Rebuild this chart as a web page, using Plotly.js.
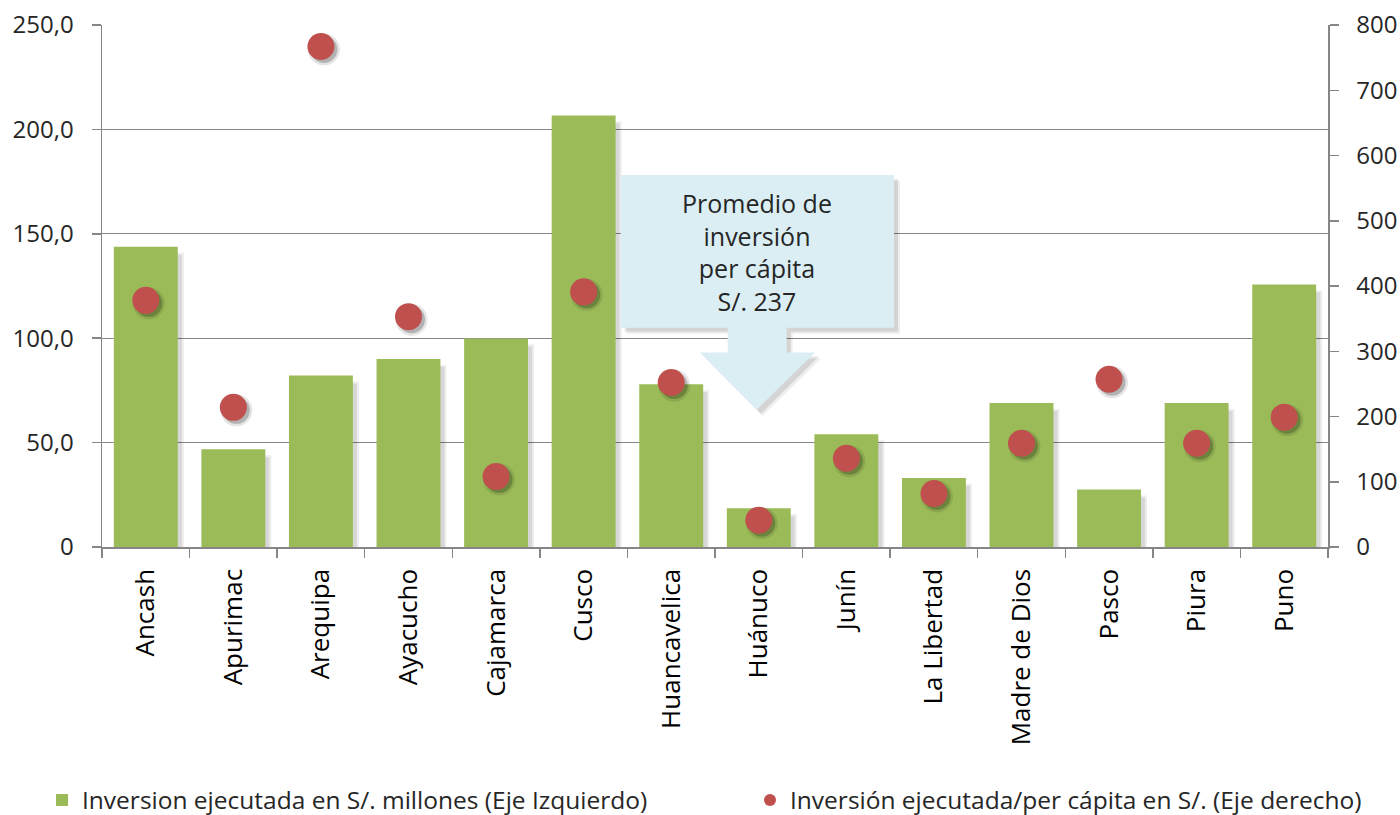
<!DOCTYPE html>
<html>
<head>
<meta charset="utf-8">
<script src="https://cdn.plot.ly/plotly-3.0.1.min.js"></script>
<style>html,body{margin:0;padding:0;background:#fff;}#chart{width:1400px;height:815px;}</style>
</head>
<body>
<div id="chart"></div>
<script>
var categories = ["Ancash","Apurimac","Arequipa","Ayacucho","Cajamarca","Cusco","Huancavelica","Huánuco","Junín","La Libertad","Madre de Dios","Pasco","Piura","Puno"];
var inversionMillones = [143.8, 46.8, 82.1, 90.0, 99.8, 206.7, 78.0, 18.5, 54.0, 33.1, 69.0, 27.5, 69.0, 125.7];
var inversionPerCapita = [378, 214, 767, 353, 108, 391, 252, 41, 136, 82, 159, 257, 159, 199];
var leftTickVals = [0, 50, 100, 150, 200, 250];
var leftTickText = ["0", "50,0", "100,0", "150,0", "200,0", "250,0"];
var rightTickVals = [0, 100, 200, 300, 400, 500, 600, 700, 800];
var seriesNames = ["Inversion ejecutada en S/. millones (Eje Izquierdo)", "Inversión ejecutada/per cápita en S/. (Eje derecho)"];
var calloutText = "Promedio de<br>inversión<br>per cápita<br>S/. 237";

var FONT = "'Open Sans', 'Noto Sans', sans-serif";
var axisGrey = "#868686";
var textCol = "#262626";

var LEFT_MAX = 250, RIGHT_MAX = 800;
var plotH = 522.4, catW = 1226 / categories.length;
var shDx = 3 / catW;                    // 3 px right shift for marker shadows
var shDy = 3 * RIGHT_MAX / plotH;       // 3 px down shift for marker shadows

// paper-coordinate helper for the plot area (l=102, t=25, w=1226, h=522.4)
function px(X){ return (X - 102) / 1226; }
function py(Y){ return (547.4 - Y) / 522.4; }
function calloutPath(dx, dy){
  var pts = [[620.7,175],[894,175],[894,328],[786.7,328],[786.7,352.7],[815,352.7],[756.7,410],[700,352.7],[727.7,352.7],[727.7,328],[620.7,328]];
  return "M" + pts.map(function(p){ return px(p[0]+dx).toFixed(5) + "," + py(p[1]+dy).toFixed(5); }).join(" L") + " Z";
}

var traces = [
  {
    type: "bar",
    x: categories,
    y: inversionMillones,
    name: seriesNames[0],
    marker: {color: "#9BBB59", line: {width: 0}},
    xaxis: "x", yaxis: "y",
    legend: "legend",
    hoverinfo: "x+y"
  },
  { // soft shadow of the dots
    type: "scatter", mode: "markers",
    x: categories, y: inversionPerCapita,
    marker: {color: "rgba(0,0,0,0.10)", size: 32, line: {width: 0}},
    xaxis: "x2", yaxis: "y2", showlegend: false, hoverinfo: "skip"
  },
  {
    type: "scatter", mode: "markers",
    x: categories, y: inversionPerCapita,
    marker: {color: "rgba(0,0,0,0.22)", size: 27, line: {width: 0}},
    xaxis: "x2", yaxis: "y2", showlegend: false, hoverinfo: "skip"
  },
  {
    type: "scatter",
    mode: "markers",
    x: categories,
    y: inversionPerCapita,
    name: seriesNames[1],
    marker: {color: "#C0504D", size: 27, line: {width: 0}},
    xaxis: "x3", yaxis: "y3",
    legend: "legend2",
    hoverinfo: "x+y"
  }
];

// bar shadows: pixel-offset rectangles anchored on each bar (category index, bar value)
var shapes = [];
inversionMillones.forEach(function(v, i){
  shapes.push({type: "rect", xref: "x", yref: "y", xsizemode: "pixel", xanchor: i, x0: 10, x1: 38,
    ysizemode: "pixel", yanchor: v, y0: -6, y1: -2000, fillcolor: "rgba(0,0,0,0.07)", line: {width: 0}, layer: "between"});
  shapes.push({type: "rect", xref: "x", yref: "y", xsizemode: "pixel", xanchor: i, x0: 10, x1: 36,
    ysizemode: "pixel", yanchor: v, y0: -8, y1: -2000, fillcolor: "rgba(0,0,0,0.09)", line: {width: 0}, layer: "between"});
});
shapes.push({type: "path", xref: "paper", yref: "paper", path: calloutPath(6, 6), fillcolor: "rgba(0,0,0,0.07)", line: {width: 0}, layer: "above"});
shapes.push({type: "path", xref: "paper", yref: "paper", path: calloutPath(4, 4), fillcolor: "rgba(0,0,0,0.10)", line: {width: 0}, layer: "above"});
shapes.push({type: "path", xref: "paper", yref: "paper", path: calloutPath(0, 0), fillcolor: "#DAEEF3", line: {width: 0}, layer: "above"});

var catRange = [-0.5, categories.length - 0.5];
var legendFont = {family: FONT, size: 24.5, color: textCol};

var layout = {
  width: 1400,
  height: 815,
  margin: {l: 102, r: 72, t: 25, b: 268, pad: 0},
  paper_bgcolor: "#ffffff",
  plot_bgcolor: "#ffffff",
  font: {family: FONT, size: 24, color: textCol},
  bargap: 0.27,
  showlegend: true,
  legend: {
    orientation: "h",
    x: 42 / 1400, xref: "container", xanchor: "left",
    y: 15 / 815, yref: "container", yanchor: "middle",
    font: legendFont, itemsizing: "constant", bgcolor: "rgba(0,0,0,0)"
  },
  legend2: {
    orientation: "h",
    x: 750 / 1400, xref: "container", xanchor: "left",
    y: 15 / 815, yref: "container", yanchor: "middle",
    font: legendFont, itemsizing: "constant", bgcolor: "rgba(0,0,0,0)"
  },
  xaxis: {
    type: "category",
    categoryorder: "array",
    categoryarray: categories,
    range: catRange,
    showline: true, linecolor: axisGrey, linewidth: 1.5,
    ticks: "outside", ticklen: 9, tickcolor: axisGrey, tickwidth: 1.5,
    tickson: "boundaries",
    tickangle: -90,
    tickfont: {family: FONT, size: 26, color: "#000"},
    showgrid: false, zeroline: false,
    ticklabelstandoff: 10,
    fixedrange: true
  },
  xaxis2: {
    type: "category", categoryorder: "array", categoryarray: categories,
    range: [catRange[0] - shDx, catRange[1] - shDx],
    overlaying: "x", visible: false, fixedrange: true
  },
  xaxis3: {
    type: "category", categoryorder: "array", categoryarray: categories,
    range: catRange,
    overlaying: "x", visible: false, fixedrange: true
  },
  yaxis: {
    range: [0, LEFT_MAX],
    tickvals: leftTickVals,
    ticktext: leftTickText,
    showline: true, linecolor: axisGrey, linewidth: 1.5,
    ticks: "outside", ticklen: 9, tickcolor: axisGrey, tickwidth: 1.5,
    showgrid: true, gridcolor: axisGrey, gridwidth: 1.3,
    zeroline: false,
    tickfont: {family: FONT, size: 24, color: textCol},
    ticklabelstandoff: 13,
    fixedrange: true
  },
  yaxis2: {
    range: [shDy, RIGHT_MAX + shDy],
    overlaying: "y", visible: false, fixedrange: true
  },
  yaxis3: {
    range: [0, RIGHT_MAX],
    tickvals: rightTickVals,
    overlaying: "y",
    side: "right",
    showline: true, linecolor: axisGrey, linewidth: 1.5,
    ticks: "outside", ticklen: 9, tickcolor: axisGrey, tickwidth: 1.5,
    showgrid: false, zeroline: false,
    tickfont: {family: FONT, size: 24, color: textCol},
    ticklabelstandoff: 13,
    fixedrange: true
  },
  shapes: shapes,
  annotations: [
    {
      xref: "paper", yref: "paper",
      x: px(757.3), y: py(252),
      xanchor: "center", yanchor: "middle",
      text: calloutText,
      showarrow: false,
      align: "center",
      font: {family: FONT, size: 25, color: textCol}
    }
  ]
};

Plotly.newPlot("chart", traces, layout, {displayModeBar: false, staticPlot: true});
</script>
</body>
</html>
